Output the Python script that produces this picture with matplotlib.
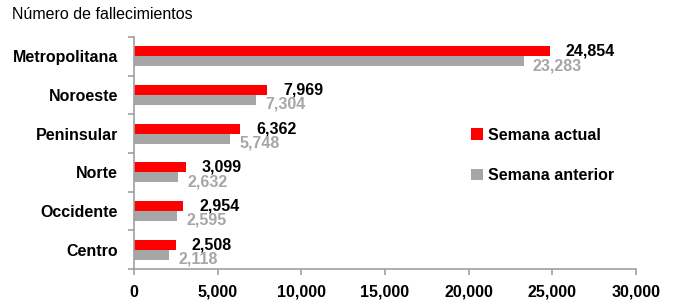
import numpy as np
import matplotlib.pyplot as plt
from matplotlib.ticker import FuncFormatter

regiones = ["Metropolitana", "Noroeste", "Peninsular", "Norte", "Occidente", "Centro"]
semana_actual = [24854, 7969, 6362, 3099, 2954, 2508]
semana_anterior = [23283, 7304, 5748, 2632, 2595, 2118]

plt.rcParams['font.family'] = ['Liberation Sans', 'DejaVu Sans']

fig = plt.figure(figsize=(6.74, 3.06), dpi=100)
ax = fig.add_axes([0.1988, 0.121, 0.7448, 0.758])

y = np.arange(len(regiones))[::-1]
h = 0.26
rojo = '#ff0000'
gris = '#a6a6a6'
ax.barh(y + h / 2, semana_actual, height=h, color=rojo, label='Semana actual')
ax.barh(y - h / 2, semana_anterior, height=h, color=gris, label='Semana anterior')

# etiquetas de datos
for i in range(len(regiones)):
    ax.annotate(f"{semana_actual[i]:,}", (semana_actual[i], y[i] + h / 2),
                xytext=(11.5, 0), textcoords='offset points', ha='left', va='center',
                fontsize=11.5, fontweight='bold', color='black')
    ax.annotate(f"{semana_anterior[i]:,}", (semana_anterior[i], y[i] - h / 2),
                xytext=(6.5, -3), textcoords='offset points', ha='left', va='center',
                fontsize=11.5, fontweight='bold', color=gris)

ax.set_xlim(0, 30000)
ax.set_ylim(-0.5, len(regiones) - 0.5)
ax.set_xticks(np.arange(0, 30001, 5000))
ax.xaxis.set_major_formatter(FuncFormatter(lambda v, p: f"{int(v):,}"))
ax.set_yticks(y)
ax.set_yticklabels(regiones)
ax.set_yticks(np.arange(-0.5, len(regiones)), minor=True)
ax.tick_params(axis='y', which='major', length=0, pad=11.5)
ax.tick_params(axis='y', which='minor', length=4, color='#a0a0a0', width=1.2)
ax.tick_params(axis='x', length=4.3, color='#a0a0a0', width=1.2, pad=7)
for lab in ax.get_xticklabels() + ax.get_yticklabels():
    lab.set_fontweight('bold')
    lab.set_fontsize(11.5)

for s in ['top', 'right']:
    ax.spines[s].set_visible(False)
for s in ['left', 'bottom']:
    ax.spines[s].set_color('#a0a0a0')
    ax.spines[s].set_linewidth(1.2)

fig.text(0.018, 0.953, "Número de fallecimientos", fontsize=11.5, ha='left', va='center')

leg = fig.legend(loc='upper left', bbox_to_anchor=(0.678, 0.63), frameon=False,
                 handlelength=0.75, handleheight=0.75, handletextpad=0.3,
                 labelspacing=1.6, prop={'weight': 'bold', 'size': 11.5})

fig.savefig('out.png', dpi=100)
